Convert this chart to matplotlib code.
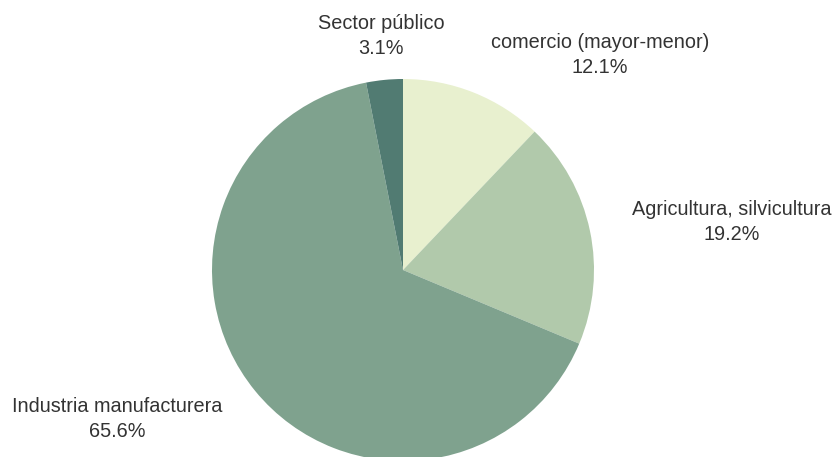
import matplotlib.pyplot as plt

sectores = ["comercio (mayor-menor)", "Agricultura, silvicultura",
            "Industria manufacturera", "Sector público"]
porcentajes = [12.1, 19.2, 65.6, 3.1]
colores = ["#e8f0cf", "#b1c9ab", "#7fa28e", "#517b72"]

# label centres in pixel units (x from left, y from top)
pos_etiquetas = [(600, 55), (732, 222), (117, 419), (381, 36)]

W, H = 834, 457
fig = plt.figure(figsize=(W / 100, H / 100), dpi=100)
ax = fig.add_axes([0, 0, 1, 1])
ax.axis("off")

ax.pie(porcentajes, colors=colores, startangle=90, counterclock=False,
       center=(403, H - 270), radius=191,
       wedgeprops=dict(linewidth=0))
ax.set_xlim(0, W)
ax.set_ylim(0, H)
ax.set_aspect("equal")

for nombre, valor, (x, y) in zip(sectores, porcentajes, pos_etiquetas):
    ax.text(x, H - y, f"{nombre}\n{valor:.1f}%", ha="center", va="center",
            fontsize=14.3, family="Liberation Sans", color="#333333",
            linespacing=1.35)

fig.savefig("out.png", dpi=100)
